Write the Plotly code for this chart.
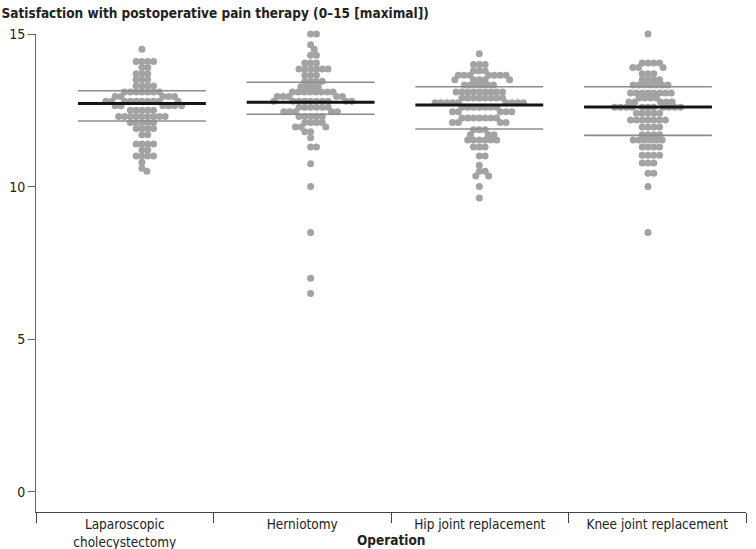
import math
import plotly.graph_objects as go

# ---------------- data ----------------
categories = ["Laparoscopic cholecystectomy", "Herniotomy",
              "Hip joint replacement", "Knee joint replacement"]
tick_labels = ["Laparoscopic<br>cholecystectomy", "Herniotomy",
               "Hip joint replacement", "Knee joint replacement"]

lap_levels = [14.5, 14.1, 13.9, 13.7, 13.5, 13.3, 13.1, 12.95, 12.8, 12.65, 12.5,
              12.3, 12.1, 11.9, 11.7, 11.4, 11.2, 11.0, 10.8, 10.6, 10.5]
lap_counts = [1, 4, 2, 3, 3, 4, 7, 5, 10, 6, 5, 9, 5, 4, 2, 4, 2, 4, 1, 1, 1]

hern_levels = [15.0, 14.65, 14.5, 14.3, 14.05, 13.85, 13.65, 13.45, 13.27, 13.1, 12.95,
               12.8, 12.6, 12.45, 12.3, 12.1, 11.95, 11.8, 11.6, 11.3, 10.75, 10.0,
               8.5, 7.0, 6.5]
hern_counts = [2, 1, 1, 2, 3, 6, 3, 4, 4, 8, 5, 10, 6, 5, 5, 4, 3, 2, 1, 2, 1, 1, 1, 1, 1]

hip_levels = [14.35, 14.0, 13.8, 13.65, 13.5, 13.33, 13.1, 12.9, 12.75, 12.6, 12.45,
              12.25, 12.1, 11.86, 11.7, 11.53, 11.3, 11.0, 10.7, 10.5, 10.35, 10.0, 9.63]
hip_counts = [1, 3, 3, 7, 5, 6, 9, 8, 9, 7, 5, 7, 4, 3, 3, 6, 3, 2, 1, 2, 2, 1, 1]

knee_levels = [15.0, 14.05, 13.9, 13.7, 13.5, 13.33, 13.07, 12.9, 12.77, 12.6, 12.4,
               12.18, 11.95, 11.7, 11.53, 11.3, 11.03, 10.77, 10.44, 10.0, 8.5]
knee_counts = [1, 4, 3, 3, 4, 7, 8, 4, 5, 11, 5, 7, 4, 4, 6, 4, 4, 3, 2, 1, 1]

medians = [12.72, 12.76, 12.67, 12.61]
upper_quartiles = [13.14, 13.42, 13.27, 13.27]
lower_quartiles = [12.15, 12.37, 11.89, 11.68]

y_ticks = [0, 5, 10, 15]
title_text = "Satisfaction with postoperative pain therapy (0–15 [maximal])"
x_title = "Operation"


def expand(levels, counts):
    out = []
    for v, c in zip(levels, counts):
        out += [v] * c
    return out


groups = [expand(lap_levels, lap_counts), expand(hern_levels, hern_counts),
          expand(hip_levels, hip_counts), expand(knee_levels, knee_counts)]

# ---------------- layout geometry ----------------
W, H = 756, 549
ML, MR, MT, MB = 36, 10, 34, 37
plot_w = W - ML - MR
plot_h = H - MT - MB
y_range = [-0.66, 15]
x_range = [-0.628, 3.581]
ppu_y = plot_h / (y_range[1] - y_range[0])
ppu_x = plot_w / (x_range[1] - x_range[0])
DIAM = 5.8  # px spacing for the swarm (points overlap slightly)


def swarm(vals):
    ys = [v * ppu_y for v in vals]
    order = sorted(range(len(vals)), key=lambda i: -vals[i])
    placed = []
    xs = [0.0] * len(vals)
    d2 = DIAM * DIAM
    for i in order:
        y = ys[i]
        cands = [0.0]
        for (px, py) in placed:
            dy = abs(py - y)
            if dy < DIAM:
                dx = math.sqrt(d2 - dy * dy)
                cands += [px + dx + 1e-6, px - dx - 1e-6]
        cands.sort(key=lambda c: (abs(c), -c))
        for c in cands:
            if all((c - px) ** 2 + (y - py) ** 2 >= d2 - 1e-6 for px, py in placed):
                xs[i] = c
                placed.append((c, y))
                break
    return [x / ppu_x for x in xs]


FONT = "Liberation Sans Narrow, DejaVu Sans Condensed, Arial Narrow, Liberation Sans, sans-serif"

fig = go.Figure()

for gi, vals in enumerate(groups):
    offs = swarm(vals)
    fig.add_trace(go.Scatter(
        x=[gi + o for o in offs], y=vals, mode="markers",
        marker=dict(size=7, color="#a3a3a3", line=dict(width=0)),
        showlegend=False, hoverinfo="skip", cliponaxis=False))

half = 0.379
for gi in range(len(categories)):
    for val, col, wid in ((upper_quartiles[gi], "#8c8c8c", 1.6),
                          (lower_quartiles[gi], "#8c8c8c", 1.6),
                          (medians[gi], "#151515", 3)):
        fig.add_trace(go.Scatter(
            x=[gi - half, gi + half], y=[val, val], mode="lines",
            line=dict(color=col, width=wid), showlegend=False, hoverinfo="skip"))

# invisible trace to carry the categorical axis
fig.add_trace(go.Scatter(x=tick_labels, y=[None] * len(tick_labels), xaxis="x2",
                         mode="markers", showlegend=False, hoverinfo="skip"))

fig.update_layout(
    width=W, height=H,
    margin=dict(l=ML, r=MR, t=MT, b=MB, pad=0, autoexpand=False),
    paper_bgcolor="white", plot_bgcolor="white",
    font=dict(family=FONT, size=13.5, color="#222"),
    title=dict(text="<b>" + title_text + "</b>", xref="container", yref="container",
               x=0.002, xanchor="left", y=1 - 13 / H, yanchor="middle",
               font=dict(family=FONT, size=13.5, color="#222")),
    xaxis=dict(range=x_range, visible=False, showgrid=False, zeroline=False,
               automargin=False),
    xaxis2=dict(overlaying="x", anchor="y", side="bottom", type="category",
                range=[-0.5, 3.5], showline=True, linecolor="#444", linewidth=1,
                ticks="outside", tickson="boundaries", ticklen=10, tickcolor="#444",
                tickwidth=1, showgrid=False, zeroline=False, automargin=False,
                tickfont=dict(family=FONT, size=13.5, color="#222")),
    yaxis=dict(range=y_range, tickvals=y_ticks, showline=True, linecolor="#666",
               linewidth=1, ticks="outside", ticklen=7, tickcolor="#666",
               showgrid=False, zeroline=False, automargin=False,
               tickfont=dict(family=FONT, size=14, color="#222")),
    annotations=[dict(text="<b>" + x_title + "</b>", xref="paper", yref="paper",
                      x=0.5, y=(512 - 540) / plot_h, xanchor="center", yanchor="middle",
                      showarrow=False, font=dict(family=FONT, size=13.5, color="#222"))],
)

fig.write_html("out.html", config={"displayModeBar": False},
               post_script="document.body.style.margin='0';document.body.style.overflow='hidden';")
